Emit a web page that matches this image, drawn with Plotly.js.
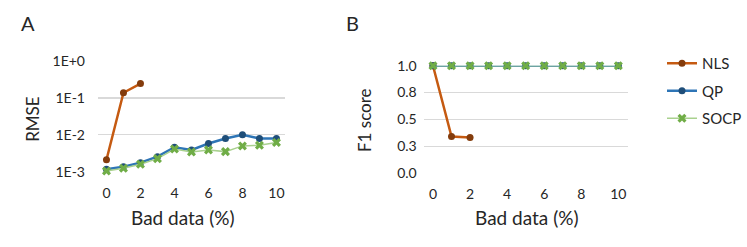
<!DOCTYPE html>
<html><head><meta charset="utf-8">
<script src="https://cdn.plot.ly/plotly-3.0.1.min.js"></script>
<style>html,body{margin:0;padding:0;background:#fff}#chart{width:747px;height:247px}</style>
</head><body><div id="chart"></div>
<script>
const badData = [0,1,2,3,4,5,6,7,8,9,10];
const nlsX = [0,1,2];
const rmseNLS = [0.0021, 0.138, 0.245];
const rmseQP = [0.00116, 0.00137, 0.00176, 0.00256, 0.0046, 0.0039, 0.0058, 0.0079, 0.0100, 0.0079, 0.0080];
const rmseSOCP = [0.00105, 0.00124, 0.00159, 0.00226, 0.0041, 0.00344, 0.0039, 0.0035, 0.0050, 0.0052, 0.0062];
const f1NLS = [1.0, 0.34, 0.33];
const f1QP = [1,1,1,1,1,1,1,1,1,1,1];
const f1SOCP = [1,1,1,1,1,1,1,1,1,1,1];
const rmseTickVals = [0.001, 0.01, 0.1, 1];
const rmseTickText = ["1E-3", "1E-2", "1E-1", "1E+0"];
const f1TickVals = [0, 0.25, 0.5, 0.75, 1.0];
const f1TickText = ["0.0", "0.3", "0.5", "0.8", "1.0"];
const xTickVals = [0,2,4,6,8,10];

const cNLS = '#C55A11', cNLSm = '#843C0C';
const cQP = '#2E75B6', cQPm = '#1F4E79';
const cSOCP = '#A9D18E', cSOCPm = '#70AD47';
const font = 'Lato, "Open Sans", sans-serif';
const txt = '#262626';

function tr(x, y, name, line, mcol, sym, xa, ya, show, lw, ms) {
  return {x: x, y: y, name: name, type: 'scatter', mode: 'lines+markers',
    xaxis: xa, yaxis: ya, showlegend: show, legendgroup: name, cliponaxis: false,
    line: {color: line, width: lw},
    marker: {color: mcol, symbol: sym, size: ms, line: {width: 0}}};
}
const data = [
  tr(nlsX, rmseNLS, 'NLS', cNLS, cNLSm, 'circle', 'x', 'y', false, 2.5, 7),
  tr(badData, rmseQP, 'QP', cQP, cQPm, 'circle', 'x', 'y', false, 2.5, 7),
  tr(badData, rmseSOCP, 'SOCP', cSOCP, cSOCPm, 'x', 'x', 'y', false, 1.5, 8),
  tr(nlsX, f1NLS, 'NLS', cNLS, cNLSm, 'circle', 'x2', 'y2', true, 2.5, 7),
  tr(badData, f1QP, 'QP', cQP, cQPm, 'circle', 'x2', 'y2', true, 2.5, 7),
  tr(badData, f1SOCP, 'SOCP', cSOCP, cSOCPm, 'x', 'x2', 'y2', true, 1.5, 8)
];
const W = 747, H = 247;
const xCommon = {range: [-0.5, 10.5], tickvals: xTickVals, showgrid: false, zeroline: false,
  showline: false, ticks: '', tickfont: {family: font, size: 14, color: txt}, ticklabelstandoff: 11, fixedrange: true};
const yCommon = {showgrid: true, gridcolor: '#D9D9D9', gridwidth: 1.3, zeroline: false, showline: false,
  ticks: '', tickfont: {family: font, size: 14, color: txt}, fixedrange: true};
function ann(text, x, y, size, angle) {
  return {text: text, x: x/W, y: 1-y/H, xref: 'paper', yref: 'paper', xanchor: 'center', yanchor: 'middle',
    showarrow: false, textangle: angle || 0, font: {family: font, size: size, color: txt}};
}
const layout = {
  width: W, height: H, margin: {l: 0, r: 0, t: 0, b: 0},
  paper_bgcolor: '#fff', plot_bgcolor: '#fff',
  font: {family: font, color: txt},
  xaxis: Object.assign({}, xCommon, {domain: [98.5/W, 286.5/W], anchor: 'y'}),
  yaxis: Object.assign({}, yCommon, {type: 'log', range: [-3, 0], tickvals: rmseTickVals, ticktext: rmseTickText,
    domain: [(H-171.7)/H, (H-61)/H], anchor: 'x', ticklabelstandoff: 12}),
  xaxis2: Object.assign({}, xCommon, {domain: [426/W, 631/W], anchor: 'y2'}),
  yaxis2: Object.assign({}, yCommon, {range: [0, 1], tickvals: f1TickVals, ticktext: f1TickText,
    domain: [(H-173)/H, (H-65.7)/H], anchor: 'x2', ticklabelstandoff: 6}),
  showlegend: true,
  legend: {x: 666/W, y: 1-47/H, xanchor: 'left', yanchor: 'top', traceorder: 'grouped',
    tracegroupgap: 5, font: {family: font, size: 15, color: txt}, bgcolor: 'rgba(0,0,0,0)'},
  annotations: [
    ann('A', 28, 23.5, 20),
    ann('B', 354, 23.5, 20),
    ann('RMSE', 32, 119, 17, -90),
    ann('F1 score', 367, 120, 17, -90),
    ann('Bad data (%)', 184, 217, 19),
    ann('Bad data (%)', 530, 217, 19)
  ]
};
Plotly.newPlot('chart', data, layout, {displayModeBar: false, staticPlot: true});
</script></body></html>
